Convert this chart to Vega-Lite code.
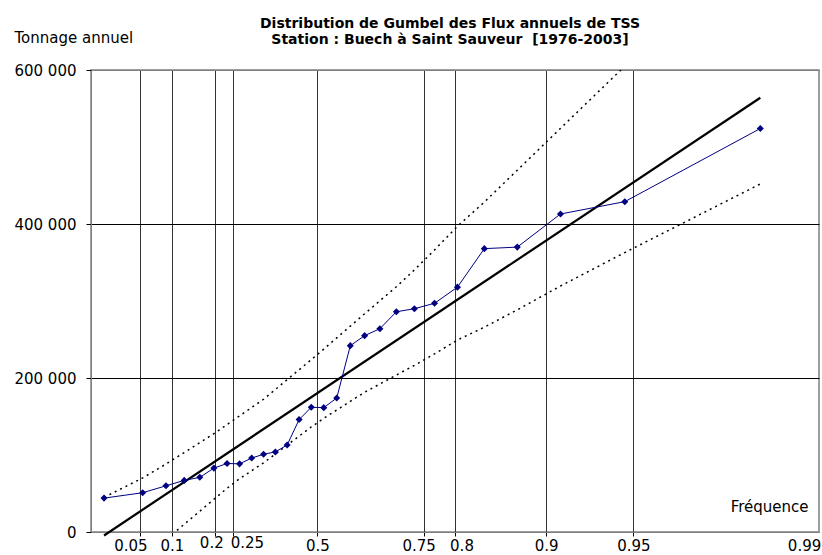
{
  "$schema": "https://vega.github.io/schema/vega-lite/v6.json",
  "width": 728,
  "height": 462,
  "autosize": {"type": "none"},
  "padding": {"left": 91, "top": 70, "right": 3, "bottom": 23},
  "background": "white",
  "config": {"font": "DejaVu Sans", "view": {"stroke": "#808080", "strokeWidth": 1.5}},
  "title": {
    "text": ["Distribution de Gumbel des Flux annuels de TSS", "Station : Buech à Saint Sauveur \u00a0[1976-2003]"],
    "font": "DejaVu Sans", "fontSize": 14, "fontWeight": "bold", "lineHeight": 16.3,
    "anchor": "middle", "dx": -5, "offset": -17, "color": "black"
  },
  "datasets": {
    "obs": [
      {"u": -1.3926, "v": 44000}, {"u": -1.0739, "v": 51000}, {"u": -0.8820, "v": 60000},
      {"u": -0.7321, "v": 67000}, {"u": -0.6033, "v": 71000}, {"u": -0.4870, "v": 83000},
      {"u": -0.3787, "v": 89000}, {"u": -0.2756, "v": 88500}, {"u": -0.1757, "v": 96000},
      {"u": -0.0778, "v": 101000}, {"u": 0.0193, "v": 104000}, {"u": 0.1167, "v": 113000},
      {"u": 0.2151, "v": 146000}, {"u": 0.3154, "v": 162000}, {"u": 0.4184, "v": 161500},
      {"u": 0.5253, "v": 174000}, {"u": 0.6371, "v": 242000}, {"u": 0.7550, "v": 255000},
      {"u": 0.8808, "v": 264000}, {"u": 1.0167, "v": 286000}, {"u": 1.1654, "v": 290000},
      {"u": 1.3312, "v": 297000}, {"u": 1.5201, "v": 318000}, {"u": 1.7418, "v": 368000},
      {"u": 2.0134, "v": 370000}, {"u": 2.3694, "v": 413000}, {"u": 2.8993, "v": 429000},
      {"u": 4.0163, "v": 524000}
    ],
    "hi": [
      {"u": -1.3926, "v": 45000}, {"u": -1.0739, "v": 70200}, {"u": -0.8820, "v": 88300},
      {"u": -0.7321, "v": 103100}, {"u": -0.6033, "v": 116000}, {"u": -0.4870, "v": 127700},
      {"u": -0.3787, "v": 139500}, {"u": -0.2756, "v": 150800}, {"u": -0.1757, "v": 161700},
      {"u": -0.0778, "v": 172400}, {"u": 0.0193, "v": 185100}, {"u": 0.1167, "v": 197900},
      {"u": 0.2151, "v": 210700}, {"u": 0.3154, "v": 223800}, {"u": 0.4184, "v": 237500},
      {"u": 0.5253, "v": 252100}, {"u": 0.6371, "v": 267300}, {"u": 0.7550, "v": 283400},
      {"u": 0.8808, "v": 300300}, {"u": 1.0167, "v": 318500}, {"u": 1.1654, "v": 340400},
      {"u": 1.3312, "v": 366300}, {"u": 1.5201, "v": 397000}, {"u": 1.7418, "v": 428500},
      {"u": 2.0134, "v": 469900}, {"u": 2.3694, "v": 524200}, {"u": 2.8993, "v": 605000},
      {"u": 4.0163, "v": 775000}
    ],
    "lo": [
      {"u": -1.3926, "v": -79000}, {"u": -1.0739, "v": -35400}, {"u": -0.8820, "v": -9800},
      {"u": -0.7321, "v": 10000}, {"u": -0.6033, "v": 27000}, {"u": -0.4870, "v": 42500},
      {"u": -0.3787, "v": 56800}, {"u": -0.2756, "v": 69200}, {"u": -0.1757, "v": 79600},
      {"u": -0.0778, "v": 89800}, {"u": 0.0193, "v": 101200}, {"u": 0.1167, "v": 112900},
      {"u": 0.2151, "v": 124500}, {"u": 0.3154, "v": 136400}, {"u": 0.4184, "v": 147600},
      {"u": 0.5253, "v": 158400}, {"u": 0.6371, "v": 169700}, {"u": 0.7550, "v": 181500},
      {"u": 0.8808, "v": 192200}, {"u": 1.0167, "v": 203800}, {"u": 1.1654, "v": 216400},
      {"u": 1.3312, "v": 231300}, {"u": 1.5201, "v": 249300}, {"u": 1.7418, "v": 266000},
      {"u": 2.0134, "v": 288500}, {"u": 2.3694, "v": 319500}, {"u": 2.8993, "v": 362900},
      {"u": 4.0163, "v": 452000}
    ],
    "fit": [
      {"u": -1.3926, "v": -4500},
      {"u": 4.0163, "v": 564000}
    ]
  },
  "encoding": {
    "x": {
      "field": "u", "type": "quantitative",
      "scale": {"domain": [-1.5, 4.5], "nice": false, "zero": false},
      "axis": {
        "values": [-1.0972, -0.834, -0.4759, -0.3266, 0.3665, 1.2459, 1.4999, 2.2504, 2.9702, 4.377],
        "labelExpr": "datum.value < -1 ? '0.05' : datum.value < -0.6 ? '0.1' : datum.value < -0.4 ? '0.2' : datum.value < 0 ? '0.25' : datum.value < 1 ? '0.5' : datum.value < 1.4 ? '0.75' : datum.value < 2 ? '0.8' : datum.value < 2.6 ? '0.9' : datum.value < 3.5 ? '0.95' : '0.99'",
        "grid": true,
        "gridColor": {"condition": {"test": "datum.value > 4", "value": "transparent"}, "value": "#333333"},
        "gridWidth": 1,
        "ticks": true,
        "tickSize": 4,
        "tickColor": {"condition": {"test": "datum.value > 4", "value": "transparent"}, "value": "black"},
        "domainColor": "#808080",
        "labelFont": "DejaVu Sans", "labelFontSize": 15, "labelColor": "black",
        "labelFlush": false, "labelOverlap": false, "labelBound": false,
        "labelPadding": {"condition": {"test": "datum.value > -0.5 && datum.value < -0.3", "value": -1}, "value": 2},
        "labelOffset": {"condition": [
          {"test": "datum.value < -1", "value": -9.5},
          {"test": "datum.value > -0.5 && datum.value < -0.4", "value": -4},
          {"test": "datum.value > -0.4 && datum.value < 0", "value": 13.5},
          {"test": "datum.value > 1 && datum.value < 1.4", "value": -5.5},
          {"test": "datum.value > 1.4 && datum.value < 2", "value": 6.5}
        ], "value": 0},
        "title": "Fréquence",
        "titleX": 717, "titleY": -21, "titleAlign": "right", "titleBaseline": "alphabetic",
        "titleFont": "DejaVu Sans", "titleFontSize": 15, "titleFontWeight": "normal", "titleColor": "black"
      }
    },
    "y": {
      "field": "v", "type": "quantitative",
      "scale": {"domain": [0, 600000], "nice": false, "zero": false},
      "axis": {
        "values": [0, 200000, 400000, 600000],
        "labelExpr": "replace(format(datum.value, ','), ',', ' ')",
        "grid": true,
        "gridColor": {"condition": {"test": "datum.value < 1 || datum.value > 599999", "value": "#808080"}, "value": "black"},
        "gridWidth": 1,
        "tickSize": 5, "tickColor": "black",
        "domainColor": "#808080",
        "labelFont": "DejaVu Sans", "labelFontSize": 15, "labelColor": "black", "labelPadding": 10,
        "title": "Tonnage annuel",
        "titleAngle": 0, "titleX": -77, "titleY": -28, "titleAlign": "left", "titleBaseline": "alphabetic",
        "titleFont": "DejaVu Sans", "titleFontSize": 15, "titleFontWeight": "normal", "titleColor": "black"
      }
    }
  },
  "layer": [
    {
      "data": {"name": "hi"},
      "mark": {"type": "line", "color": "black", "strokeWidth": 1.5, "strokeDash": [2, 4], "clip": true}
    },
    {
      "data": {"name": "lo"},
      "mark": {"type": "line", "color": "black", "strokeWidth": 1.5, "strokeDash": [2, 4], "clip": true}
    },
    {
      "data": {"name": "fit"},
      "mark": {"type": "line", "color": "black", "strokeWidth": 2.2}
    },
    {
      "data": {"name": "obs"},
      "mark": {"type": "line", "color": "#000080", "strokeWidth": 1, "point": {"shape": "diamond", "filled": true, "size": 50, "color": "#000080"}}
    }
  ]
}
